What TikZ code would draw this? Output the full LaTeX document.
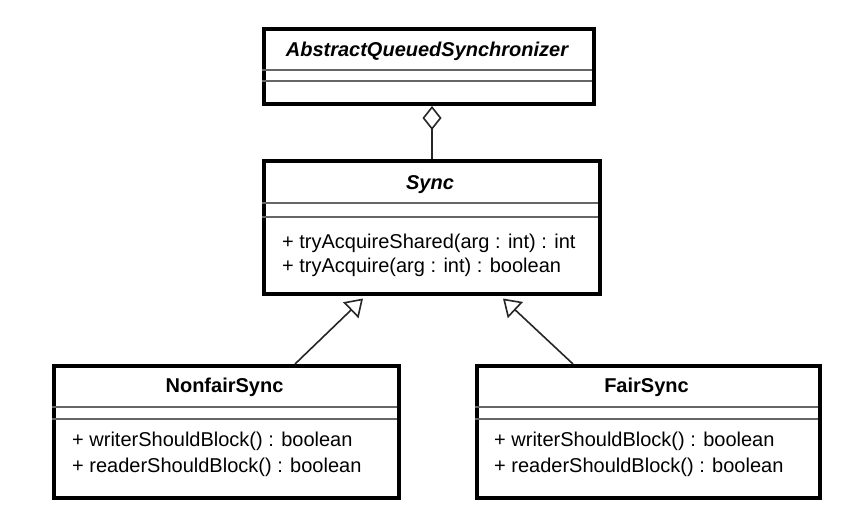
\documentclass[tikz,border=0pt]{standalone}
\usepackage{fontspec}
\setmainfont{Liberation Sans}
\usetikzlibrary{arrows.meta,calc}
\begin{document}
\begin{tikzpicture}[x=1pt,y=-1pt,
  box/.style={draw=black,line width=4pt,fill=white,anchor=north west,inner sep=0pt},
  sep/.style={draw=black!60,line width=1.6pt},
  title/.style={font=\fontsize{20}{24}\selectfont\bfseries,inner sep=0pt},
  atitle/.style={font=\fontsize{20}{24}\selectfont\bfseries\itshape,inner sep=0pt},
  meth/.style={font=\fontsize{20}{24}\selectfont,anchor=west,inner sep=0pt},
  conn/.style={line width=1.6pt,draw=black!85},
  gen/.style={conn,-{Triangle[open,length=17pt,width=22pt]}},
  agg/.style={conn,{Diamond[open,length=24pt,width=19pt]}-},
]
\useasboundingbox (0,0) rectangle (857,531);
\fill[white] (0,0) rectangle (857,531);

% AbstractQueuedSynchronizer
\node[box,minimum width=330pt,minimum height=75pt] (aqs) at (262,27) {};
\draw[sep] (262,70) -- (592,70);
\draw[sep] (262,81) -- (592,81);
\node[atitle] (aqst) at (427,51) {AbstractQueuedSynchronizer};

% Sync
\node[box,minimum width=336pt,minimum height=133pt] (sync) at (262,159) {};
\draw[sep] (262,203) -- (598,203);
\draw[sep] (262,217) -- (598,217);
\node[atitle] (synct) at (430,185) {Sync};
\node[meth] (sm1) at (282,243) {+ tryAcquireShared(arg : int) : int};
\node[meth] (sm2) at (282,267) {+ tryAcquire(arg : int) : boolean};

% NonfairSync
\node[box,minimum width=345pt,minimum height=132pt] (nonfair) at (52,364) {};
\draw[sep] (52,407) -- (397,407);
\draw[sep] (52,419) -- (397,419);
\node[title] (nonfairt) at (224.5,387) {NonfairSync};
\node[meth] (nm1) at (72,441) {+ writerShouldBlock() : boolean};
\node[meth] (nm2) at (72,467) {+ readerShouldBlock() : boolean};

% FairSync
\node[box,minimum width=343pt,minimum height=132pt] (fair) at (475,364) {};
\draw[sep] (475,407) -- (818,407);
\draw[sep] (475,419) -- (818,419);
\node[title] (fairt) at (646.5,387) {FairSync};
\node[meth] (fm1) at (494,441) {+ writerShouldBlock() : boolean};
\node[meth] (fm2) at (494,467) {+ readerShouldBlock() : boolean};

% connectors
\draw[agg] (aqs.south -| sync.north) -- (sync.north);
\draw[gen] ($(nonfair.north west)+(243,0)$) -- ($(sync.south west)+(101,2.5)$);
\draw[gen] ($(fair.north west)+(98,0)$) -- ($(sync.south west)+(241,2.5)$);
\end{tikzpicture}
\end{document}
